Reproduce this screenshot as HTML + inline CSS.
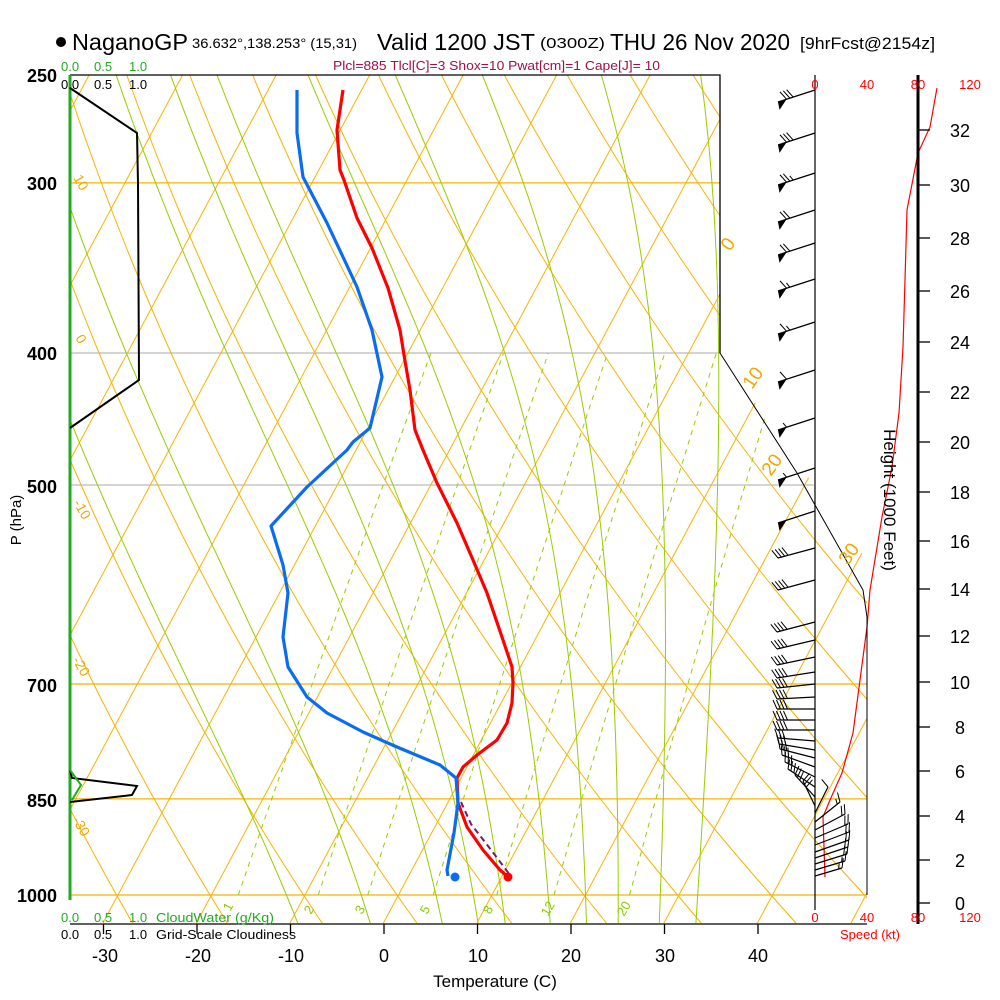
<!DOCTYPE html>
<html><head><meta charset="utf-8"><style>
html,body{margin:0;padding:0;background:#fff;}
svg{display:block;font-family:"Liberation Sans",sans-serif;}
</style></head><body>
<svg id="s" width="1000" height="1000" viewBox="0 0 1000 1000" xmlns="http://www.w3.org/2000/svg">
<defs>
<clipPath id="cp"><polygon points="70,75 720,75 720,353 867,560 867,923 70,923"/></clipPath>
</defs>
<rect width="1000" height="1000" fill="#fff"/>
<g id="grid" clip-path="url(#cp)"></g>
<g id="hl"></g>
<g id="prof"></g>
<g id="wind"></g>
<!-- frame -->
<polyline points="70,75 720,75 720,353" fill="none" stroke="#000" stroke-width="1.3"/>
<polyline points="720,353 797,473 863,590 867,617 867,895" fill="none" stroke="#000" stroke-width="1"/>
<line x1="70" y1="924" x2="867" y2="924" stroke="#000" stroke-width="1.3"/>
<line x1="70" y1="75" x2="70" y2="900" stroke="#22aa22" stroke-width="3"/>
<line x1="815" y1="75" x2="815" y2="910" stroke="#000" stroke-width="1.2"/>
<line x1="918" y1="75" x2="918" y2="924" stroke="#000" stroke-width="3"/>
<!-- cloudiness -->
<polyline points="70,88 137,133 138,183 139,380 70,428" fill="none" stroke="#000" stroke-width="2"/>
<polyline points="70,770 72,778 137,786 132,795 70,802" fill="none" stroke="#000" stroke-width="2"/>
<polyline points="70,770 81,785 72,800" fill="none" stroke="#22aa22" stroke-width="2"/>
<!-- title -->
<circle cx="61" cy="42" r="5" fill="#000"/>
<text x="72" y="50" font-size="23" textLength="116" lengthAdjust="spacingAndGlyphs">NaganoGP</text>
<text x="192" y="48" font-size="14" textLength="165" lengthAdjust="spacingAndGlyphs">36.632°,138.253° (15,31)</text>
<text x="377" y="50" font-size="23" textLength="158" lengthAdjust="spacingAndGlyphs">Valid 1200 JST</text>
<text x="540" y="48" font-size="15" textLength="65" lengthAdjust="spacingAndGlyphs">(0300Z)</text>
<text x="610" y="50" font-size="23" textLength="180" lengthAdjust="spacingAndGlyphs">THU 26 Nov 2020</text>
<text x="800" y="49" font-size="17" textLength="135" lengthAdjust="spacingAndGlyphs">[9hrFcst@2154z]</text>
<text x="333" y="70" font-size="13" fill="#a0104a" textLength="327" lengthAdjust="spacingAndGlyphs">Plcl=885 Tlcl[C]=3 Shox=10 Pwat[cm]=1 Cape[J]= 10</text>
<!-- top small labels -->
<g font-size="13" fill="#22aa22"><text x="61" y="71">0.0</text><text x="94" y="71">0.5</text><text x="129" y="71">1.0</text></g>
<g font-size="13" fill="#000"><text x="61" y="89">0.0</text><text x="94" y="89">0.5</text><text x="129" y="89">1.0</text></g>
<g font-size="13" fill="#22aa22"><text x="61" y="922">0.0</text><text x="94" y="922">0.5</text><text x="129" y="922">1.0</text><text x="156" y="922" textLength="118" lengthAdjust="spacingAndGlyphs">CloudWater (g/Kg)</text></g>
<g font-size="13" fill="#000"><text x="61" y="939">0.0</text><text x="94" y="939">0.5</text><text x="129" y="939">1.0</text><text x="156" y="939" textLength="140" lengthAdjust="spacingAndGlyphs">Grid-Scale Cloudiness</text></g>
<!-- pressure labels -->
<g font-size="18" font-weight="bold" text-anchor="end">
<text x="57" y="82">250</text><text x="57" y="190">300</text><text x="57" y="360">400</text><text x="57" y="493">500</text><text x="57" y="692">700</text><text x="57" y="807">850</text><text x="57" y="902">1000</text>
</g>
<text transform="translate(21,520) rotate(-90)" font-size="15" text-anchor="middle">P (hPa)</text>
<!-- temp axis -->
<g id="tt" stroke="#000" stroke-width="1.3"></g>
<g font-size="18" text-anchor="middle">
<text x="105" y="962">-30</text><text x="198" y="962">-20</text><text x="291" y="962">-10</text><text x="384" y="962">0</text><text x="478" y="962">10</text><text x="571" y="962">20</text><text x="665" y="962">30</text><text x="758" y="962">40</text>
</g>
<text x="495" y="987" font-size="17" text-anchor="middle">Temperature (C)</text>
<!-- speed labels -->
<g font-size="13" fill="#ff0000" text-anchor="middle">
<text x="815" y="89">0</text><text x="867" y="89">40</text><text x="918" y="89">80</text><text x="970" y="89">120</text>
<text x="815" y="922">0</text><text x="867" y="922">40</text><text x="918" y="922">80</text><text x="970" y="922">120</text>
<text x="870" y="939">Speed (kt)</text>
</g>
<!-- height axis -->
<g id="ht"></g>
<text transform="translate(884,500) rotate(90)" font-size="17" text-anchor="middle">Height (1000 Feet)</text>
<!-- orange labels -->
<g font-size="14" fill="#f0a800">
<text transform="translate(73,178) rotate(60)">10</text>
<text transform="translate(75,338) rotate(60)">0</text>
<text transform="translate(73,503) rotate(60)">-10</text>
<text transform="translate(72,660) rotate(60)">-20</text>
<text transform="translate(72,820) rotate(60)">-30</text>
</g>
<g font-size="19" fill="#f0a800">
<text transform="translate(730,252) rotate(-55)">0</text>
<text transform="translate(752,390) rotate(-55)">10</text>
<text transform="translate(771,477) rotate(-55)">20</text>
<text transform="translate(848,566) rotate(-55)">30</text>
</g>
<g font-size="13" fill="#88cc00">
<text transform="translate(230,912) rotate(-60)">1</text>
<text transform="translate(311,915) rotate(-60)">2</text>
<text transform="translate(362,915) rotate(-60)">3</text>
<text transform="translate(427,915) rotate(-60)">5</text>
<text transform="translate(490,915) rotate(-60)">8</text>
<text transform="translate(548,917) rotate(-60)">12</text>
<text transform="translate(624,917) rotate(-60)">20</text>
</g>
</svg>
<script>
(function(){
var NS="http://www.w3.org/2000/svg";
function el(parent,tag,attrs){var e=document.createElementNS(NS,tag);for(var k in attrs)e.setAttribute(k,attrs[k]);parent.appendChild(e);return e;}
function Y(p){return 895-591.5*Math.log(1000/p);}
function X(T,y){return 384+9.35*T+0.535*(922-y);}
var g=document.getElementById('grid');
function poly(parent,pts,attrs){var s=pts.map(function(a){return a[0].toFixed(1)+','+a[1].toFixed(1)}).join(' ');attrs.points=s;attrs.fill='none';return el(parent,'polyline',attrs);}
[[300,'#f5b400'],[400,'#bbbbbb'],[500,'#bbbbbb'],[700,'#f5b400'],[850,'#f5b400'],[1000,'#f5b400']].forEach(function(a){
 var y=Y(a[0]);el(g,'line',{x1:70,y1:y,x2:900,y2:y,stroke:a[1],'stroke-width':1.3});});
for(var T=-150;T<=60;T+=10){el(g,'line',{x1:X(T,930),y1:930,x2:X(T,60),y2:60,stroke:'#f5b400','stroke-width':1});}
function pAtY(y){return 1000/Math.exp((895-y)/591.5);}
for(var th=173;th<=493;th+=10){var pts=[];for(var y=930;y>=60;y-=8){var p=pAtY(y);var Tc=th*Math.pow(p/1000,0.2857)-273.15;pts.push([X(Tc,y),y]);}poly(g,pts,{stroke:'#f5b400','stroke-width':1});}
function es(Tc){return 6.112*Math.exp(17.67*Tc/(Tc+243.5));}
function dTdp(T,p){var e=es(T-273.15);var rs=0.622*e/(p-e);var Rd=287,cp=1005,L=2.5e6;return ((Rd*T+L*rs)/(cp+L*L*rs*0.622/(Rd*T*T)))/p;}
[-12,-4,4,8,11,16,20,23.5,28,32].forEach(function(T0){
 var pts=[];var Tb=T0+273.15,pb=1000;
 while(pb<1060){Tb+=dTdp(Tb,pb)*2;pb+=2;}
 var T=Tb,p=pb;
 while(p>230){var y=Y(p);pts.push([X(T-273.15,y),y]);T-=dTdp(T,p)*4;p-=4;}
 poly(g,pts,{stroke:'#99cc00','stroke-width':1});
});
[1,2,3,5,8,12,20].forEach(function(w){var pts=[];w=w/1000;for(var p=1000;p>=400;p-=10){var e=w*p/(0.622+w);var l=Math.log(e/6.112);var Td=243.5*l/(17.67-l);var y=Y(p);pts.push([X(Td,y),y]);}
 poly(g,pts,{stroke:'#99cc00','stroke-width':1,'stroke-dasharray':'5,5'});});
var tt=document.getElementById('tt');
for(var t=-30;t<=40;t+=10){var x=384+9.35*t;el(tt,'line',{x1:x,y1:924,x2:x,y2:934});}
var ht=document.getElementById('ht');
var hy={0:903,2:860,4:816,6:771,8:727,10:682,12:636,14:589,16:541,18:492,20:442,22:392,24:342,26:291,28:238,30:185,32:130};
for(var h in hy){el(ht,'line',{x1:918,y1:hy[h],x2:930,y2:hy[h],stroke:'#000','stroke-width':1.3});var t2=el(ht,'text',{x:960,y:hy[h]+7,'font-size':18,'text-anchor':'middle'});t2.textContent=h;}
var sp=[[937,88],[930,127],[918,153],[907,210],[905,280],[903,347],[899,413],[892,467],[882,517],[870,590],[867,627],[860,680],[853,733],[842,773],[830,800],[823,817],[825,877]];
poly(document.getElementById('hl'),sp,{stroke:'#ff0000','stroke-width':1.2});
var pr=document.getElementById('prof');
var red=[[343,90],[337,130],[340,170],[344,180],[357,218],[372,248],[388,288],[400,330],[404,355],[410,390],[415,430],[423,450],[437,483],[457,523],[473,560],[487,593],[503,640],[512,667],[513,683],[512,703],[507,723],[497,740],[477,755],[463,767],[457,778],[458,803],[467,827],[483,850],[500,870],[508,877]];
var blue=[[297,90],[297,133],[303,177],[327,223],[343,257],[357,287],[372,330],[382,377],[370,428],[353,442],[347,450],[307,487],[271,526],[283,565],[288,593],[283,637],[288,667],[307,697],[327,713],[363,732],[397,747],[440,765],[456,778],[458,803],[454,833],[447,870],[448,876]];
var purp=[[459,803],[469,825],[486,847],[502,868],[508,876]];
poly(pr,purp.map(function(a){return [a[0]+2,a[1]-1]}),{stroke:'#7a1a6a','stroke-width':2,'stroke-dasharray':'6,4'});
poly(pr,red,{stroke:'#ff0000','stroke-width':3.2,'stroke-linejoin':'round'});
poly(pr,blue,{stroke:'#0a6cf0','stroke-width':3.2,'stroke-linejoin':'round'});
el(pr,'circle',{cx:508,cy:877,r:4.5,fill:'#ff0000'});
el(pr,'circle',{cx:455,cy:877,r:4.5,fill:'#0a6cf0'});
var wg=document.getElementById('wind');
function barb(y,dx,dy,spd){var bx=815,tx=bx+dx,ty=y+dy;el(wg,'line',{x1:bx,y1:y,x2:tx,y2:ty,stroke:'#000','stroke-width':1.2});
 var L=Math.sqrt(dx*dx+dy*dy),ux=dx/L,uy=dy/L,nx=uy,ny=-ux; if(ny>0){nx=-nx;ny=-ny;}
 var pos=0,s=spd;
 while(s>=50){var ax=tx-ux*pos,ay=ty-uy*pos;el(wg,'polygon',{points:ax+','+ay+' '+(ax+ux*1-nx*8)+','+(ay+uy*1-ny*8)+' '+(ax-ux*9)+','+(ay-uy*9),fill:'#000'});pos+=9;s-=50;}
 while(s>=10){var ax=tx-ux*pos,ay=ty-uy*pos;el(wg,'line',{x1:ax,y1:ay,x2:ax+nx*9+ux*4,y2:ay+ny*9+uy*4,stroke:'#000','stroke-width':1});pos+=3.5;s-=10;}
 if(s>=5){var ax=tx-ux*pos,ay=ty-uy*pos;el(wg,'line',{x1:ax,y1:ay,x2:ax+nx*5+ux*2,y2:ay+ny*5+uy*2,stroke:'#000','stroke-width':1});}
}
[[90,80],[133,80],[173,75],[210,70],[243,70],[279,65],[322,65],[370,60],[418,55],[468,55],[511,50]].forEach(function(a){barb(a[0],-37,12,a[1]);});
barb(548,-37,10,40);barb(580,-37,10,40);
[[622,-38,10],[640,-38,9],[657,-38,8],[672,-38,6],[684,-38,4],[697,-38,2],[709,-38,0],[720,-38,0],[730,-38,0]].forEach(function(a){barb(a[0],a[1],a[2],40);});
[[741,-37,-3],[750,-36,-6],[758,-35,-9],[767,-33,-12],[777,-30,-15],[787,-27,-18],[797,-20,-22],[806,-12,-25]].forEach(function(a){barb(a[0],a[1],a[2],30);});
[[813,13,-26,10],[822,25,-20,15],[830,30,-16,20],[838,33,-14,20],[845,34,-13,20],[852,34,-12,20],[858,33,-11,20],[864,32,-10,20],[870,30,-9,15],[876,27,-8,15]].forEach(function(a){barb(a[0],a[1],a[2],a[3]);});
})();
</script>
</body></html>
